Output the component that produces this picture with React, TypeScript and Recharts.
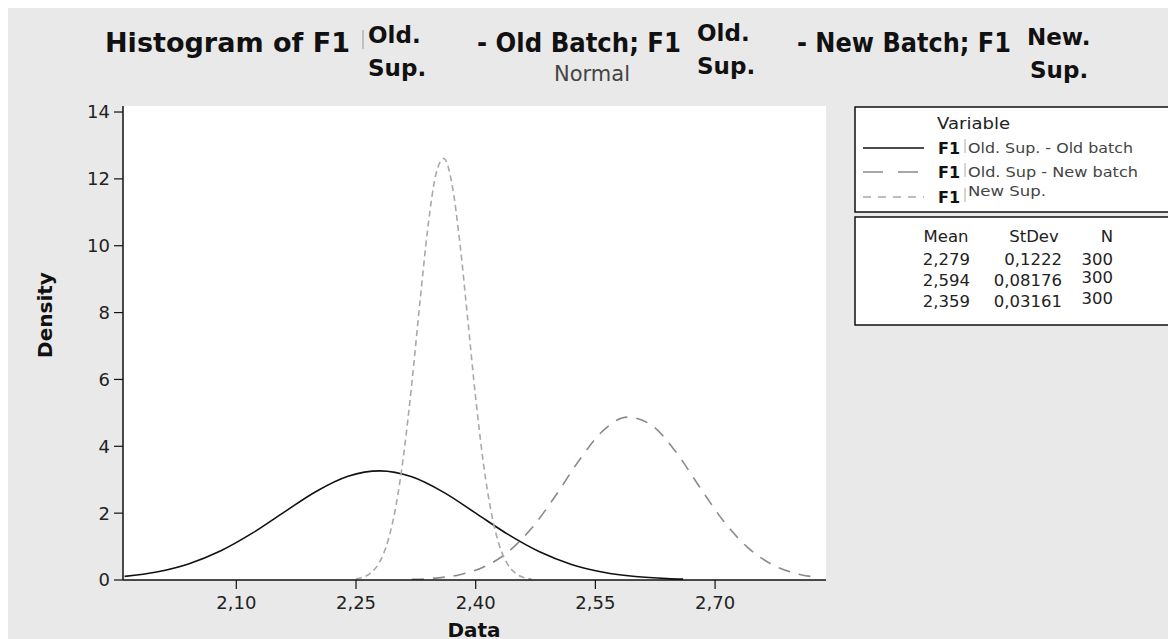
import { LineChart, Line, XAxis, YAxis, CartesianGrid } from 'recharts';

// F1 Old. Sup. - Old batch (solid)
const oldOldX = [1.96, 2.0, 2.04, 2.08, 2.12, 2.16, 2.2, 2.24, 2.28, 2.32, 2.36, 2.4, 2.44, 2.48, 2.52, 2.56, 2.6, 2.64, 2.66];
const oldOldY = [0.108, 0.241, 0.482, 0.867, 1.401, 2.032, 2.649, 3.102, 3.265, 3.086, 2.621, 2.0, 1.371, 0.844, 0.467, 0.232, 0.104, 0.042, 0.025];

// F1 Old. Sup - New batch (long dashes)
const oldNewX = [2.32, 2.35, 2.38, 2.41, 2.44, 2.47, 2.5, 2.53, 2.56, 2.59, 2.62, 2.65, 2.68, 2.71, 2.74, 2.77, 2.8, 2.83];
const oldNewY = [0.018, 0.057, 0.159, 0.388, 0.828, 1.545, 2.519, 3.591, 4.475, 4.873, 4.638, 3.859, 2.806, 1.783, 0.99, 0.481, 0.204, 0.076];

// F1 New Sup. (short dashes)
const newSupX = [2.25, 2.26, 2.27, 2.28, 2.29, 2.3, 2.31, 2.32, 2.33, 2.34, 2.35, 2.36, 2.37, 2.38, 2.39, 2.4, 2.41, 2.42, 2.43, 2.44, 2.45, 2.46, 2.47];
const newSupY = [0.033, 0.094, 0.24, 0.555, 1.165, 2.211, 3.796, 5.896, 8.285, 10.53, 12.12, 12.61, 11.88, 10.12, 7.802, 5.442, 3.434, 1.961, 1.013, 0.474, 0.2, 0.077, 0.026];

const xTicks = [2.1, 2.25, 2.4, 2.55, 2.7];
const yTicks = [0, 2, 4, 6, 8, 10, 12, 14];

const statHeader = ['Mean', 'StDev', 'N'];
const statMean = ['2,279', '2,594', '2,359'];
const statStDev = ['0,1222', '0,08176', '0,03161'];
const statN = ['300', '300', '300'];

const seriesNames = ['Old. Sup. - Old batch', 'Old. Sup - New batch', 'New Sup.'];

const toPoints = (xs: number[], ys: number[]) => xs.map((x, i) => ({ x, y: ys[i] }));

const W = 1168;
const H = 631;
const FONT = 'DejaVu Sans';

const lineStyles = [
  { stroke: '#111', dash: undefined as string | undefined, width: 1.6 },
  { stroke: '#8a8a8a', dash: '12 9', width: 1.6 },
  { stroke: '#a9a9a9', dash: '6 4', width: 1.6 },
];

function Overlay() {
  // page coords minus the 8px body margin
  const o = (v: number) => v - 8;
  const bold = { fontFamily: FONT, fontWeight: 700, fill: '#111' } as const;
  const fit = { lengthAdjust: 'spacingAndGlyphs' } as const;
  const small = { fontFamily: FONT, fill: '#222' } as const;
  return (
    <svg width={W} height={H} style={{ position: 'absolute', left: 0, top: 0, pointerEvents: 'none' }}>
      {/* title */}
      <text x={o(105)} y={o(52)} fontSize={27} textLength={245} {...fit} {...bold}>Histogram of F1</text>
      <line x1={o(363)} y1={o(30)} x2={o(363)} y2={o(49)} stroke="#999" strokeWidth={1} />
      <text x={o(368)} y={o(43)} fontSize={23} {...bold}>Old.</text>
      <text x={o(368)} y={o(76)} fontSize={23} {...bold}>Sup.</text>
      <text x={o(477)} y={o(52)} fontSize={27} textLength={204} {...fit} {...bold}>- Old Batch; F1</text>
      <text x={o(592)} y={o(81)} fontSize={21} textAnchor="middle" fontFamily={FONT} fill="#444">Normal</text>
      <text x={o(697)} y={o(41)} fontSize={23} {...bold}>Old.</text>
      <text x={o(697)} y={o(74)} fontSize={23} {...bold}>Sup.</text>
      <text x={o(797)} y={o(52)} fontSize={27} textLength={214} {...fit} {...bold}>- New Batch; F1</text>
      <text x={o(1027)} y={o(45)} fontSize={23} {...bold}>New.</text>
      <text x={o(1030)} y={o(78)} fontSize={23} {...bold}>Sup.</text>

      {/* axis titles */}
      <text transform={`translate(${o(52)},${o(315)}) rotate(-90)`} textAnchor="middle" fontSize={20} {...bold}>Density</text>
      <text x={o(474)} y={o(637)} textAnchor="middle" fontSize={20} {...bold}>Data</text>

      {/* legend: variables */}
      <rect x={o(855)} y={o(107)} width={320} height={105} fill="#fff" stroke="#111" strokeWidth={1.5} />
      <text x={o(937)} y={o(129)} fontSize={16} textLength={73} {...fit} {...small}>Variable</text>
      {seriesNames.map((name, i) => {
        const ly = [148, 172, 197][i];
        const st = lineStyles[i];
        return (
          <g key={name}>
            <line x1={o(863)} y1={o(ly)} x2={o(924)} y2={o(ly)} stroke={st.stroke} strokeWidth={st.width} strokeDasharray={st.dash ? (i === 1 ? '20 15' : '8 7') : undefined} />
            <text x={o(938)} y={o(ly + 6)} fontSize={16} {...bold}>F1</text>
            <line x1={o(965)} y1={o(ly - 9)} x2={o(965)} y2={o(ly + 5)} stroke="#aaa" strokeWidth={1} />
            <text x={o(968)} y={o(i === 2 ? ly - 1 : ly + 5)} fontSize={14} textLength={[165, 170, 78][i]} {...fit} fontFamily={FONT} fill="#444">{name}</text>
          </g>
        );
      })}

      {/* legend: stats */}
      <rect x={o(855)} y={o(217)} width={320} height={108} fill="#fff" stroke="#111" strokeWidth={1.5} />
      <text x={o(946)} y={o(242)} fontSize={16.5} textAnchor="middle" {...small}>{statHeader[0]}</text>
      <text x={o(1034)} y={o(242)} fontSize={16.5} textAnchor="middle" {...small}>{statHeader[1]}</text>
      <text x={o(1107)} y={o(242)} fontSize={16.5} textAnchor="middle" {...small}>{statHeader[2]}</text>
      {statMean.map((m, i) => {
        const by = [265, 286, 307][i];
        return (
          <g key={i}>
            <text x={o(970)} y={o(by)} fontSize={16.5} textAnchor="end" {...small}>{m}</text>
            <text x={o(1062)} y={o(by)} fontSize={16.5} textAnchor="end" {...small}>{statStDev[i]}</text>
            <text x={o(1113)} y={o(i === 0 ? by : by - 3)} fontSize={16.5} textAnchor="end" {...small}>{statN[i]}</text>
          </g>
        );
      })}
    </svg>
  );
}

export default function App() {
  const series = [toPoints(oldOldX, oldOldY), toPoints(oldNewX, oldNewY), toPoints(newSupX, newSupY)];
  const tickStyle = { fontSize: 18, fill: '#222', fontFamily: FONT };
  return (
    <div style={{ position: 'relative', width: W, height: H, background: '#e9e9e9', overflow: 'visible' }}>
      <LineChart width={W} height={H} margin={{ top: 98, right: 350, left: 0, bottom: 0 }}>
        <CartesianGrid fill="#fff" horizontal={false} vertical={false} />
        <XAxis
          type="number"
          dataKey="x"
          domain={[1.958, 2.839]}
          ticks={xTicks}
          allowDataOverflow
          height={59}
          tickSize={9}
          tickMargin={7}
          tick={tickStyle}
          tickFormatter={(v: number) => v.toFixed(2).replace('.', ',')}
          axisLine={{ stroke: '#111', strokeWidth: 1.5 }}
          tickLine={{ stroke: '#111', strokeWidth: 1.2 }}
        />
        <XAxis xAxisId="top" orientation="top" type="number" domain={[0, 1]} height={0} tick={false} tickLine={false} axisLine={{ stroke: '#111', strokeWidth: 1.5 }} />
        <YAxis
          type="number"
          domain={[0, 14.18]}
          ticks={yTicks}
          allowDataOverflow
          width={115}
          tickSize={9}
          tickMargin={4}
          tick={tickStyle}
          axisLine={{ stroke: '#111', strokeWidth: 1.5 }}
          tickLine={{ stroke: '#111', strokeWidth: 1.2 }}
        />
        <YAxis yAxisId="right" orientation="right" type="number" domain={[0, 1]} width={0} tick={false} tickLine={false} axisLine={{ stroke: '#111', strokeWidth: 1.5 }} />
        {series.map((pts, i) => (
          <Line
            key={i}
            data={pts}
            dataKey="y"
            type="monotone"
            stroke={lineStyles[i].stroke}
            strokeWidth={lineStyles[i].width}
            strokeDasharray={lineStyles[i].dash}
            dot={false}
            activeDot={false}
            isAnimationActive={false}
          />
        ))}
      </LineChart>
      <Overlay />
    </div>
  );
}
